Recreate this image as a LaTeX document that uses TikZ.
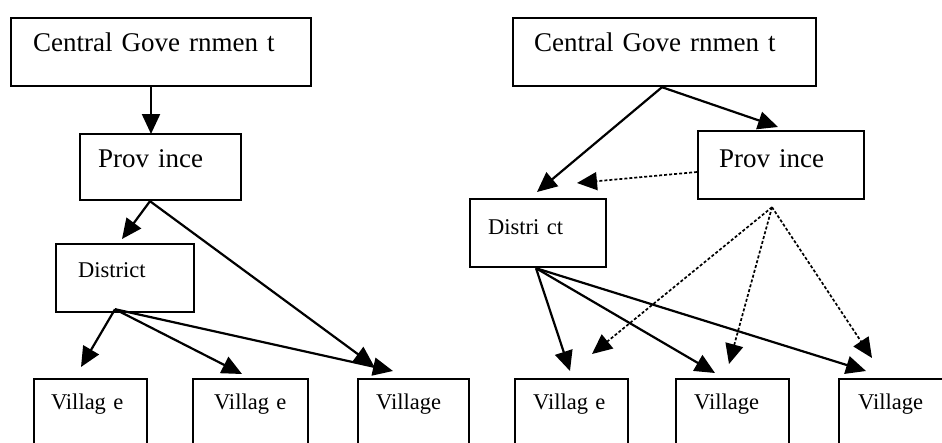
\documentclass[tikz,border=0pt]{standalone}
\usepackage{fontspec}
\setmainfont{Liberation Serif}
\usetikzlibrary{arrows.meta,calc}
\begin{document}
\begin{tikzpicture}[x=1pt,y=-1pt,
  box/.style={draw, line width=2.2pt, inner sep=0pt, anchor=north west, align=left},
  big/.style={font=\fontsize{27}{30}\selectfont},
  mid/.style={font=\fontsize{22.5}{24}\selectfont},
  vil/.style={box, mid, text height=30pt, text depth=70pt},
  arr/.style={line width=2.2pt, -{Triangle[length=20pt,width=18pt]}},
  darr/.style={line width=1.7pt, dash pattern=on 3pt off 2pt, -{Triangle[length=20pt,width=18pt]}}]
\useasboundingbox (0,0) rectangle (942,442);
\clip (0,0) rectangle (942,442);
\fill[white] (0,0) rectangle (942,442);

% ---------- left diagram ----------
\node[box,big,text width=300pt,text height=33pt,text depth=35pt] (lcg) at (10,17) {\noindent\hspace*{22pt}Central Gove rnmen t};
\node[box,big,text width=161pt,text height=33pt,text depth=33pt] (lprov) at (79,133) {\noindent\hspace*{18pt}Prov ince};
\node[box,mid,text width=138pt,text height=33pt,text depth=35pt] (ldist) at (55,243) {\noindent\hspace*{22pt}District};
\node[vil,text width=113pt] (lv1) at (33,378) {\noindent\hspace*{17pt}Villag e};
\node[vil,text width=115pt] (lv2) at (192,378) {\noindent\hspace*{21pt}Villag e};
\node[vil,text width=111pt] (lv3) at (357,378) {\noindent\hspace*{18pt}Village};

\draw[arr] ($(lcg.south west)+(141,0)$) -- ($(lprov.north west)+(72,1)$);
\draw[arr] ($(lprov.south west)+(71,0)$) -- ($(ldist.north west)+(67,-4)$);
\draw[arr] ($(lprov.south west)+(71,0)$) -- ($(lv3.north west)+(17,-12)$);
\draw[arr] ($(ldist.south west)+(60,-4)$) -- ($(lv1.north west)+(48,-11)$);
\draw[arr] ($(ldist.south west)+(60,-4)$) -- ($(lv2.north west)+(50,-4)$);
\draw[arr] ($(ldist.south west)+(60,-4)$) -- ($(lv3.north west)+(36,-7)$);

% ---------- right diagram ----------
\node[box,big,text width=303pt,text height=33pt,text depth=35pt] (rcg) at (512,17) {\noindent\hspace*{21pt}Central Gove rnmen t};
\node[box,big,text width=166pt,text height=36pt,text depth=32pt] (rprov) at (697,130) {\noindent\hspace*{21pt}Prov ince};
\node[box,mid,text width=136pt,text height=35pt,text depth=33pt] (rdist) at (469,198) {\noindent\hspace*{18pt}Distri ct};
\node[vil,text width=113pt] (rv4) at (514,378) {\noindent\hspace*{18pt}Villag e};
\node[vil,text width=113pt] (rv5) at (675,378) {\noindent\hspace*{18pt}Village};
\node[vil,text width=120pt] (rv6) at (838,378) {\noindent\hspace*{19pt}Village};

\draw[arr] ($(rcg.south west)+(150,0)$) -- ($(rdist.north west)+(68,-6)$);
\draw[arr] ($(rcg.south west)+(150,0)$) -- ($(rprov.north west)+(81,-3)$);
\draw[darr] ($(rprov.north west)+(0,42)$) -- ($(rdist.north west)+(108,-15)$);
\draw[darr] ($(rprov.south west)+(75,7)$) -- ($(rv4.north west)+(78,-24)$);
\draw[darr] ($(rprov.south west)+(75,7)$) -- ($(rv5.north west)+(54,-14)$);
\draw[darr] ($(rprov.south west)+(75,7)$) -- ($(rv6.north west)+(34,-20)$);
\draw[arr] ($(rdist.south west)+(67,0)$) -- ($(rv4.north west)+(56,-7)$);
\draw[arr] ($(rdist.south west)+(67,0)$) -- ($(rv5.north west)+(40,-5)$);
\draw[arr] ($(rdist.south west)+(67,0)$) -- ($(rv6.north west)+(28,-7)$);
\end{tikzpicture}
\end{document}
